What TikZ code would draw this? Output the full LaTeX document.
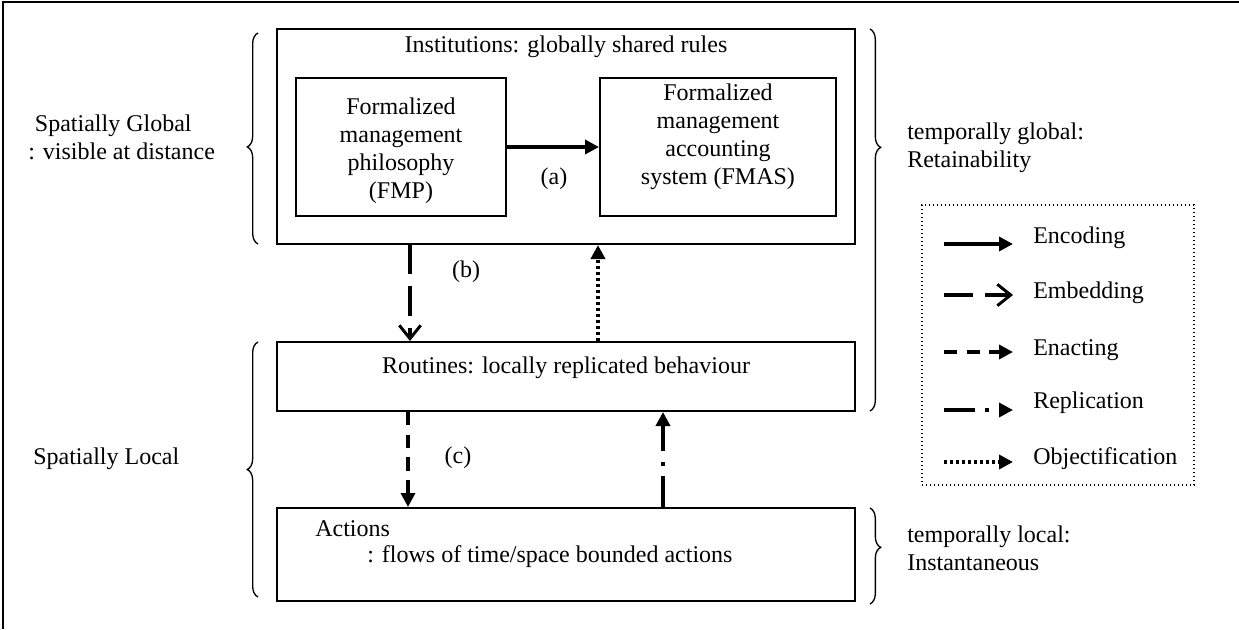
\documentclass[tikz,border=0pt]{standalone}
\usepackage{fontspec}
\setmainfont{Liberation Serif}
\usetikzlibrary{arrows.meta,decorations.pathreplacing,fit}
\begin{document}
\begin{tikzpicture}[x=0.75pt,y=-0.75pt,
  font=\fontsize{18}{21}\selectfont,
  box/.style={draw,line width=1.5pt,inner sep=0pt},
  txt/.style={inner sep=0pt,align=center},
  ltxt/.style={inner sep=0pt,align=left,anchor=west},
  brc/.style={decorate,decoration={brace,amplitude=8pt,aspect=#1},line width=1pt},
  brc/.default=0.5,
  encode/.style={line width=3pt,-{Triangle[length=10.5pt,width=10.5pt]}},
  embed/.style={line width=2.6pt,dash pattern=on 22pt off 9pt,-{Straight Barb[length=10pt,width=16pt,line width=2.2pt]}},
  enact/.style={line width=3pt,dash pattern=on 10pt off 7pt,-{Triangle[length=10.5pt,width=10.5pt]}},
  replic/.style={line width=3pt,dash pattern=on 23pt off 8pt on 3pt off 8pt,-{Triangle[length=10.5pt,width=10.5pt]}},
  objectify/.style={line width=3pt,dash pattern=on 2.25pt off 2.25pt,-{Triangle[length=10.5pt,width=10.5pt]}},
]
\useasboundingbox (0,0) rectangle (1239,629);
% outer frame (top and left only visible)
\draw[line width=1.5pt] (3,629) -- (3,2) -- (1239,2);

% boxes
\coordinate (i1) at (277,29); \coordinate (i2) at (855,244);
\node[box,fit=(i1)(i2)] (inst) {};
\coordinate (p1) at (296,78); \coordinate (p2) at (506,216);
\node[box,fit=(p1)(p2)] (fmp) {};
\coordinate (s1) at (600,78); \coordinate (s2) at (836,216);
\node[box,fit=(s1)(s2)] (fmas) {};
\coordinate (r1) at (277,342); \coordinate (r2) at (855,411);
\node[box,fit=(r1)(r2)] (rout) {};
\coordinate (a1) at (277,508); \coordinate (a2) at (855,601);
\node[box,fit=(a1)(a2)] (act) {};

% texts
\node[txt] (instT) at (566,47) {Institutions: globally shared rules};
\node[txt] (fmpT) at (401,151) {Formalized\\management\\philosophy\\(FMP)};
\node[txt] (fmasT) at (718,137) {Formalized\\management\\accounting\\system (FMAS)};
\node[txt] (routT) at (566,368) {Routines: locally replicated behaviour};
\node[ltxt] (actT1) at (315,529) {Actions};
\node[ltxt] (actT2) at (367,557) {: flows of time/space bounded actions};
\node[txt] (la) at (554,179) {(a)};
\node[txt] (lb) at (466,272) {(b)};
\node[txt] (lc) at (458,458) {(c)};

% connectors
\draw[encode] (fmp) -- (fmas);
\coordinate (bT) at (410,244); \coordinate (bB) at (410,342);
\draw[embed] (bT |- inst.south) -- (bB |- rout.north);
\coordinate (oT) at (598,244); \coordinate (oB) at (598,342);
\draw[objectify] (oB |- rout.north) -- (oT |- inst.south);
\coordinate (cT) at (408,411); \coordinate (cB) at (408,508);
\draw[enact] (cT |- rout.south) -- (cB |- act.north);
\coordinate (dT) at (663,411); \coordinate (dB) at (663,508);
\draw[replic] (dB |- act.north) -- (dT |- rout.south);

% braces left
\coordinate (lb1a) at (258,244); \coordinate (lb1b) at (258,33);
\draw[brc=0.46] (lb1a) -- (lb1b);
\coordinate (lb2a) at (258,597); \coordinate (lb2b) at (258,342);
\draw[brc] (lb2a) -- (lb2b);
\node[ltxt] (sg) at (28,137) {\hspace*{5pt}Spatially Global\\: visible at distance};
\node[ltxt] (sl) at (33,459) {Spatially Local};
% braces right
\coordinate (rb1a) at (870,29); \coordinate (rb1b) at (870,411);
\draw[brc=0.31] (rb1a) -- (rb1b);
\coordinate (rb2a) at (870,508); \coordinate (rb2b) at (870,604);
\draw[brc=0.41] (rb2a) -- (rb2b);
\node[ltxt] (tg) at (907,148) {temporally global:\\Retainability};
\node[ltxt] (tl) at (907,548) {temporally local:\\Instantaneous};

% legend
\coordinate (g1) at (922,205); \coordinate (g2) at (1194,485);
\node[draw,dotted,line width=1pt,inner sep=0pt,fit=(g1)(g2)] (leg) {};
\coordinate (e1s) at (944,244); \coordinate (e1e) at (1013,244);
\draw[encode] (e1s) -- (e1e);
\node[ltxt] (e1t) at (1033,238) {Encoding};
\coordinate (e2s) at (944,295); \coordinate (e2e) at (1013,295);
\draw[embed] (e2s) -- (e2e);
\node[ltxt] (e2t) at (1033,293) {Embedding};
\coordinate (e3s) at (944,352); \coordinate (e3e) at (1013,352);
\draw[enact] (e3s) -- (e3e);
\node[ltxt] (e3t) at (1033,350) {Enacting};
\coordinate (e4s) at (944,410); \coordinate (e4e) at (1013,410);
\draw[replic] (e4s) -- (e4e);
\node[ltxt] (e4t) at (1033,403) {Replication};
\coordinate (e5s) at (944,462); \coordinate (e5e) at (1013,462);
\draw[objectify] (e5s) -- (e5e);
\node[ltxt] (e5t) at (1033,459) {Objectification};
\end{tikzpicture}
\end{document}
